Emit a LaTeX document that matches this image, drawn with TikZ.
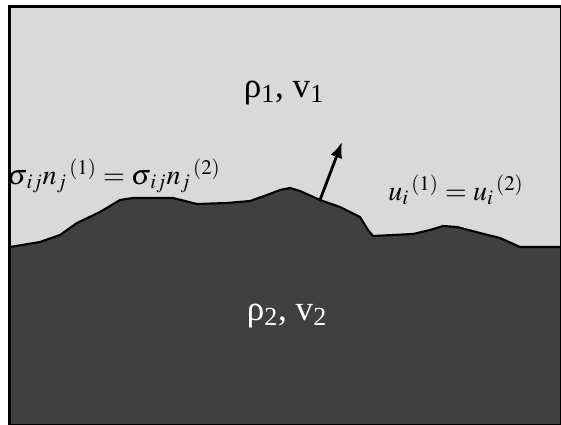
\documentclass[tikz,border=0pt]{standalone}
\usepackage{mathptmx}
\usepackage[no-math]{fontspec}
\setmainfont{Liberation Serif}
\usepackage{xcolor}
\usetikzlibrary{arrows.meta}
\definecolor{upperGray}{RGB}{217,217,217}
\definecolor{lowerGray}{RGB}{64,64,64}

\begin{document}
\begin{tikzpicture}[
x=0.02cm, y=-0.02cm,
label/.style={inner sep=0pt, font=\fontsize{20}{24}\selectfont},
cond/.style={inner sep=0pt, font=\fontsize{16}{20}\selectfont},
interface/.style={draw=black, line width=1.2pt, line join=round}
]
\useasboundingbox (0,0) rectangle (561,425);

% upper medium
\fill[upperGray] (9,6) rectangle (561,425);

% lower medium with rough interface
\fill[lowerGray] (10,247) -- (40,242) -- (60,235) -- (77,223) -- (100,212)
    -- (120,200) -- (133,198) -- (173,198) -- (197,204) -- (227,203)
    -- (250,201) -- (267,195) -- (280,190) -- (290,188) -- (300,191)
    -- (320,200) -- (340,207) -- (360,217) -- (368,230) -- (373,236)
    -- (413,234) -- (430,230) -- (443,226) -- (457,227) -- (480,233)
    -- (500,238) -- (520,247) -- (540,247) -- (561,247)
    -- (561,425) -- (10,425) -- cycle;
\draw[interface] (10,247) -- (40,242) -- (60,235) -- (77,223) -- (100,212)
    -- (120,200) -- (133,198) -- (173,198) -- (197,204) -- (227,203)
    -- (250,201) -- (267,195) -- (280,190) -- (290,188) -- (300,191)
    -- (320,200) -- (340,207) -- (360,217) -- (368,230) -- (373,236)
    -- (413,234) -- (430,230) -- (443,226) -- (457,227) -- (480,233)
    -- (500,238) -- (520,247) -- (540,247) -- (561,247);

% frame
\draw[line width=1.7pt] (9.5,425) -- (9.5,6.5) -- (561,6.5);
\draw[line width=0.5pt] (560,6.5) -- (560,424) -- (9.5,424);

% normal vector
\coordinate (base) at (320,200);
\coordinate (tip) at (342,142);
\draw[line width=1.6pt, -{Latex[length=9pt, width=7pt]}] (base) -- (tip);

% labels
\node[label] (medium1) at (284,93) {ρ\textsubscript{1}, v\textsubscript{1}};
\node[label, text=white] (medium2) at (287,316) {ρ\textsubscript{2}, v\textsubscript{2}};
\node[cond] (stress) at (114,176) {$\sigma_{\,ij}n_{j}{}^{\,(1)} = \sigma_{\,ij}n_{j}{}^{\,(2)}$};
\node[cond] (displ) at (456,190) {$u_{i}{}^{\,(1)} = u_{i}{}^{\,(2)}$};

\end{tikzpicture}
\end{document}
